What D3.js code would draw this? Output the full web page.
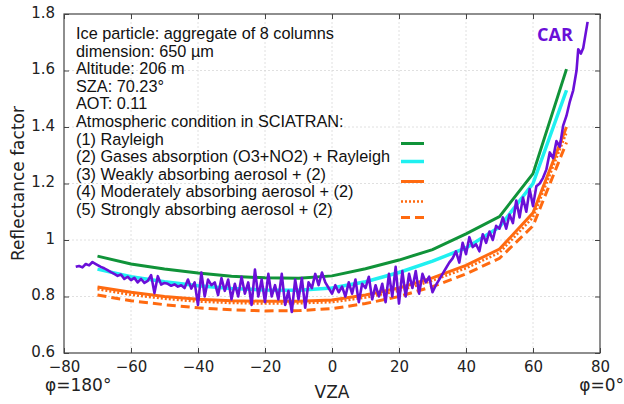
<!DOCTYPE html>
<html>
<head>
<meta charset="utf-8">
<script src="https://cdn.jsdelivr.net/npm/d3@7"></script>
<style>
  html, body { margin: 0; padding: 0; background: #fff; }
  svg { display: block; }
</style>
</head>
<body>
<div id="chart"></div>
<script>
// ---------------- DATA ----------------
const xTicks = [-80, -60, -40, -20, 0, 20, 40, 60, 80];
const yTicks = [0.6, 0.8, 1.0, 1.2, 1.4, 1.6, 1.8];

const simVZA = [-70, -60, -50, -40, -30, -20, -10, 0, 10, 20, 30, 40, 50, 60, 70];
const rayleigh   = [0.943, 0.915, 0.897, 0.883, 0.872, 0.866, 0.865, 0.873, 0.898, 0.929, 0.966, 1.022, 1.083, 1.235, 1.605];
const gasesRay   = [0.897, 0.870, 0.852, 0.838, 0.828, 0.823, 0.822, 0.830, 0.852, 0.885, 0.925, 0.972, 1.046, 1.200, 1.530];
const weakAer    = [0.834, 0.815, 0.800, 0.790, 0.785, 0.783, 0.783, 0.788, 0.805, 0.830, 0.866, 0.910, 0.968, 1.096, 1.400];
const modAer     = [0.826, 0.806, 0.792, 0.782, 0.777, 0.775, 0.776, 0.780, 0.796, 0.820, 0.856, 0.900, 0.955, 1.080, 1.380];
const strongAer  = [0.805, 0.785, 0.771, 0.760, 0.753, 0.749, 0.750, 0.757, 0.775, 0.800, 0.835, 0.880, 0.935, 1.050, 1.345];

const carVZA = [-76.5,-75.5,-74.5,-73.5,-72.5,-71.5,-70.5,-69,-68,-67,-66,-65,-64,-63,-62,-61,-60,-59,-58,-57,-56,-55,-54,-53,-52,-51,
  -50,-49,-48,-47,-46,-45,-44,-43,-42,-41,-40,-39,-38,-37,-36,-35,-34,-33,-32,-31,-30,-29,-28,-27,-26,-25,-24,-23,-22,-21,
  -20,-19,-18,-17,-16,-15,-14,-13,-12,-11,-10,-9,-8,-7,-6,-5,-4,-3,-2,-1,0,1,2,3,4,5,6,7,8,9,10,11,12,13,14,15,16,17,18,19,
  20,21,22,23,24,25,26,27,28,29,30,31,32,33,34,35,36,37,38,39,40,41,42,43,44,45,46,47,48,49,50,51,52,53,54,55,56,57,58,59,
  60,61,62,63,64,65,66,67,68,69,70,71,72,73,73.5,74.3,75,76.3];
const carRF = [0.905,0.908,0.903,0.915,0.910,0.922,0.915,0.905,0.900,0.893,0.886,0.880,0.873,0.878,0.862,0.870,0.858,0.866,0.850,0.862,0.848,0.855,0.876,0.812,0.872,0.842,
  0.848,0.845,0.838,0.843,0.835,0.840,0.830,0.860,0.828,0.850,0.770,0.885,0.800,0.860,0.840,0.850,0.805,0.865,0.820,0.860,0.790,0.845,0.800,0.870,0.810,0.850,0.770,0.895,0.800,0.860,
  0.780,0.880,0.800,0.840,0.790,0.880,0.770,0.820,0.745,0.860,0.790,0.865,0.760,0.850,0.830,0.880,0.840,0.885,0.850,0.830,0.810,0.840,0.815,0.835,0.800,0.850,0.810,0.860,0.780,0.845,0.830,0.870,0.790,0.840,0.800,0.845,0.780,0.880,0.800,0.905,
  0.775,0.890,0.800,0.880,0.830,0.890,0.810,0.880,0.850,0.870,0.815,0.840,0.860,0.880,0.900,0.920,0.935,0.960,0.920,0.990,0.950,1.010,0.975,0.985,0.960,1.020,0.990,1.030,1.000,1.050,1.040,1.080,1.040,1.090,1.060,1.140,1.080,1.150,1.100,1.180,
  1.120,1.190,1.200,1.220,1.250,1.310,1.290,1.350,1.330,1.405,1.440,1.490,1.530,1.600,1.675,1.660,1.680,1.772];

const legendLines = [
  "Ice particle: aggregate of 8 columns",
  "dimension: 650 µm",
  "Altitude: 206 m",
  "SZA: 70.23°",
  "AOT: 0.11",
  "Atmospheric condition in SCIATRAN:",
  "(1) Rayleigh",
  "(2) Gases absorption (O3+NO2) + Rayleigh",
  "(3) Weakly absorbing aerosol + (2)",
  "(4) Moderately absorbing aerosol + (2)",
  "(5) Strongly absorbing aerosol + (2)"
];

// ---------------- LAYOUT ----------------
const W = 624, H = 404;
const margin = {left: 64, right: 24, top: 14, bottom: 51};
const svg = d3.select("#chart").append("svg").attr("width", W).attr("height", H)
  .style("font-family", "'DejaVu Sans', sans-serif");

const x = d3.scaleLinear().domain([-80, 80]).range([margin.left, W - margin.right]);
const y = d3.scaleLinear().domain([0.6, 1.8]).range([H - margin.bottom, margin.top]);

const x0 = x.range()[0], x1 = x.range()[1], y0 = y.range()[0], y1 = y.range()[1];

// grid
const grid = svg.append("g").attr("stroke", "#d8d8d8").attr("stroke-width", 0.8).attr("stroke-dasharray", "2,2");
grid.selectAll("line.vx").data(xTicks.slice(1, -1)).join("line")
  .attr("x1", d => x(d)).attr("x2", d => x(d)).attr("y1", y1).attr("y2", y0);
grid.selectAll("line.hy").data(yTicks.slice(1, -1)).join("line")
  .attr("y1", d => y(d)).attr("y2", d => y(d)).attr("x1", x0).attr("x2", x1);

// axes
const fmtY = d => (d === 1 ? "1" : d3.format(".1f")(d));
const axB = svg.append("g").attr("transform", `translate(0,${y0})`)
  .call(d3.axisBottom(x).tickValues(xTicks).tickSizeInner(-5).tickSizeOuter(0).tickPadding(8).tickFormat(d3.format("d")));
const axL = svg.append("g").attr("transform", `translate(${x0},0)`)
  .call(d3.axisLeft(y).tickValues(yTicks).tickSizeInner(-5).tickSizeOuter(0).tickPadding(9).tickFormat(fmtY));
const axT = svg.append("g").attr("transform", `translate(0,${y1})`)
  .call(d3.axisTop(x).tickValues(xTicks).tickSizeInner(-5).tickSizeOuter(0).tickFormat(""));
const axR = svg.append("g").attr("transform", `translate(${x1},0)`)
  .call(d3.axisRight(y).tickValues(yTicks).tickSizeInner(-5).tickSizeOuter(0).tickFormat(""));
[axB, axL, axT, axR].forEach(a => {
  a.select(".domain").remove();
  a.selectAll("line").attr("stroke", "#444");
  a.selectAll("text").attr("fill", "#222").style("font-size", "15px").style("font-family", "'DejaVu Sans', sans-serif");
});
axL.selectAll("text").attr("dy", "0.2em");

svg.append("rect").attr("x", x0).attr("y", y1).attr("width", x1 - x0).attr("height", y0 - y1)
  .attr("fill", "none").attr("stroke", "#444").attr("stroke-width", 1.2);

// axis titles
svg.append("text").attr("x", x(0)).attr("y", 398).attr("text-anchor", "middle")
  .style("font-size", "17px").attr("fill", "#222").text("VZA");
svg.append("text").attr("x", 45).attr("y", 391).attr("text-anchor", "start")
  .style("font-size", "17px").attr("fill", "#222").text("φ=180°");
svg.append("text").attr("x", 624).attr("y", 391).attr("text-anchor", "end")
  .style("font-size", "17px").attr("fill", "#222").text("φ=0°");
svg.append("text").attr("transform", `translate(24,${(y0 + y1) / 2}) rotate(-90)`).attr("text-anchor", "middle")
  .style("font-size", "17px").attr("fill", "#222").text("Reflectance factor");

// series
const series = [
  {vals: rayleigh,  color: "#109339", width: 3,   dash: null},
  {vals: gasesRay,  color: "#1ff0f0", width: 3.5, dash: null},
  {vals: weakAer,   color: "#ff6a10", width: 3,   dash: null},
  {vals: modAer,    color: "#ff6a10", width: 2.5, dash: "2,2"},
  {vals: strongAer, color: "#ff6a10", width: 3,   dash: "9,5"}
];
const line = d3.line().x(d => x(d[0])).y(d => y(d[1]));
const plot = svg.append("g");
series.forEach(s => {
  plot.append("path").datum(simVZA.map((v, i) => [v, s.vals[i]]))
    .attr("d", line).attr("fill", "none").attr("stroke", s.color)
    .attr("stroke-width", s.width).attr("stroke-dasharray", s.dash);
});
plot.append("path").datum(carVZA.map((v, i) => [v, carRF[i]]))
  .attr("d", line).attr("fill", "none").attr("stroke", "#6a0fd8")
  .attr("stroke-width", 2.6).attr("stroke-linejoin", "round");

svg.append("text").attr("x", 555).attr("y", 41).attr("text-anchor", "middle")
  .style("font-size", "18px").style("font-weight", "bold").style("font-family", "'Open Sans', sans-serif")
  .attr("fill", "#6a0fd8").text("CAR");

// legend text
const leg = svg.append("g").style("font-family", "'Liberation Sans', Arial, sans-serif").style("font-size", "16.3px").attr("fill", "#111");
leg.selectAll("text").data(legendLines).join("text")
  .attr("x", 76).attr("y", (d, i) => 39 + i * 17.6).text(d => d);

// legend line samples
const legY = [143.5, 161.5, 181.5, 201.5, 217.5];
series.forEach((s, i) => {
  svg.append("line").attr("x1", 401).attr("x2", 424).attr("y1", legY[i]).attr("y2", legY[i])
    .attr("stroke", s.color).attr("stroke-width", s.width).attr("stroke-dasharray", s.dash);
});
</script>
</body>
</html>
